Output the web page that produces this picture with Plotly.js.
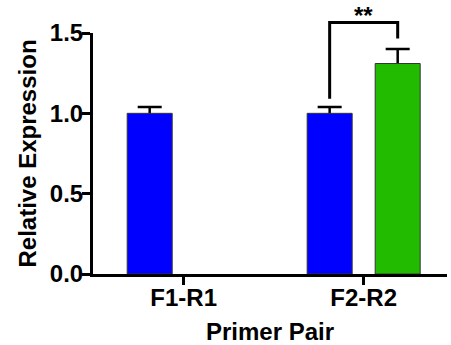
<!DOCTYPE html>
<html>
<head>
<meta charset="utf-8">
<script src="https://cdn.plot.ly/plotly-3.0.1.min.js"></script>
<style>html,body{margin:0;padding:0;background:#fff;}#chart{width:451px;height:345px;}</style>
</head>
<body>
<div id="chart"></div>
<script>
// Data
const categories = ["F1-R1", "F2-R2"];
const seriesA = [1.0, 1.0];          // blue
const seriesAErr = [0.04, 0.04];
const seriesB = [null, 1.31];        // green
const seriesBErr = [null, 0.09];
const yTicks = [0, 0.5, 1.0, 1.5];
const yTickLabels = ["0.0", "0.5", "1.0", "1.5"];
const sigLabel = "**";
// significance bracket levels (data units): left foot, top, right foot
const bracketLevels = [1.09, 1.565, 1.465];

const yMax = 1.5;
const fontFam = '"Liberation Sans", Arial, Helvetica, sans-serif';
const boldFont = (size) => ({family: fontFam, size: size, color: '#000', weight: 'bold'});

const barW = 0.25, off = 0.189;
const offA = -off - barW / 2, offB = off - barW / 2;

function errCarrier(vals, errs, offset) {
  return {
    type: 'bar', x: categories, y: vals, width: barW, offset: offset,
    marker: {color: 'rgba(0,0,0,0)', line: {width: 0}},
    error_y: {type: 'data', array: errs, symmetric: true,
              color: '#000', thickness: 2.5, width: 12},
    hoverinfo: 'skip', cliponaxis: false
  };
}
function bars(vals, offset, color) {
  return {
    type: 'bar', x: categories, y: vals, width: barW, offset: offset,
    marker: {color: color, line: {color: '#333', width: 1}},
    cliponaxis: false
  };
}

const traces = [
  errCarrier(seriesA, seriesAErr, offA),
  errCarrier(seriesB, seriesBErr, offB),
  bars(seriesA, offA, '#0000FF'),
  bars(seriesB, offB, '#22BB00')
];

const gx = 1; // index of F2-R2
const toPaper = v => v / yMax;
const bracketPath = `M ${gx - off} ${toPaper(bracketLevels[0])} L ${gx - off} ${toPaper(bracketLevels[1])} L ${gx + off} ${toPaper(bracketLevels[1])} L ${gx + off} ${toPaper(bracketLevels[2])}`;

const layout = {
  width: 451, height: 345,
  margin: {l: 93, r: 4, t: 33, b: 71, pad: 0},
  paper_bgcolor: '#fff', plot_bgcolor: '#fff',
  showlegend: false,
  barmode: 'overlay',
  xaxis: {
    type: 'category', range: [-0.504, 1.463],
    showline: true, linewidth: 3, linecolor: '#000',
    ticks: 'outside', ticklen: 8, tickwidth: 3, tickcolor: '#000',
    showgrid: false, zeroline: false,
    ticklabelstandoff: -8,
    tickfont: boldFont(24),
    title: {text: 'Primer Pair', font: boldFont(24), standoff: 14}
  },
  yaxis: {
    range: [0, yMax],
    tickvals: yTicks, ticktext: yTickLabels,
    showline: true, linewidth: 3, linecolor: '#000',
    ticks: 'outside', ticklen: 8, tickwidth: 3, tickcolor: '#000',
    showgrid: false, zeroline: false,
    ticklabelstandoff: -6,
    tickfont: boldFont(24),
    title: {text: 'Relative Expression', font: boldFont(24), standoff: 7}
  },
  shapes: [{
    type: 'path', xref: 'x', yref: 'paper', path: bracketPath,
    line: {color: '#000', width: 3}
  }],
  annotations: [{
    xref: 'x', yref: 'paper', x: gx, y: toPaper(bracketLevels[1]),
    text: sigLabel, showarrow: false, yanchor: 'bottom', yshift: -8,
    font: boldFont(24)
  }]
};

Plotly.newPlot('chart', traces, layout, {displayModeBar: false, staticPlot: true});
</script>
</body>
</html>
